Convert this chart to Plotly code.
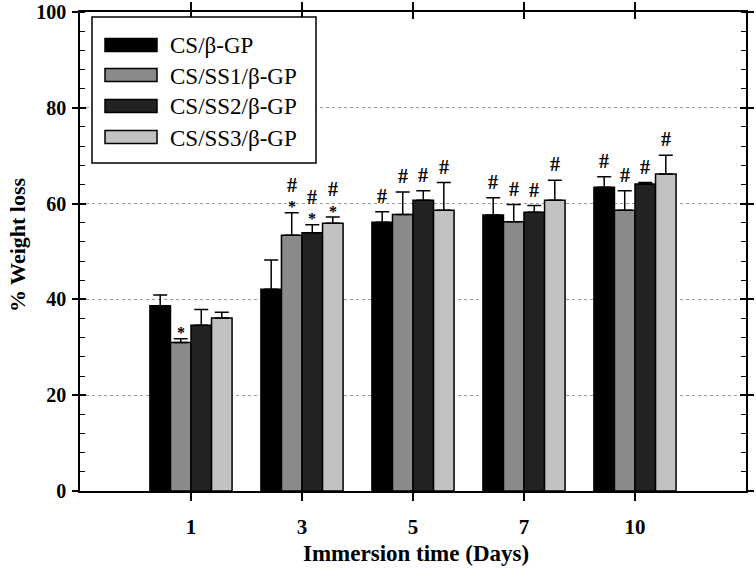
import plotly.graph_objects as go

days = ["1", "3", "5", "7", "10"]
series_names = ["CS/β-GP", "CS/SS1/β-GP", "CS/SS2/β-GP", "CS/SS3/β-GP"]
cs_bgp = [38.7, 42.1, 56.1, 57.6, 63.4]
cs_ss1 = [31.0, 53.4, 57.7, 56.2, 58.6]
cs_ss2 = [34.6, 53.9, 60.7, 58.2, 64.1]
cs_ss3 = [36.1, 55.9, 58.6, 60.7, 66.2]
err_bgp = [2.2, 6.1, 2.2, 3.6, 2.2]
err_ss1 = [0.8, 4.7, 4.7, 3.6, 4.1]
err_ss2 = [3.3, 1.7, 2.0, 1.4, 0.3]
err_ss3 = [1.2, 1.3, 5.8, 4.2, 3.9]
hash_bgp = [False, False, True, True, True]
hash_ss1 = [False, True, True, True, True]
hash_ss2 = [False, True, True, True, True]
hash_ss3 = [False, True, True, True, True]
star_bgp = [False, False, False, False, False]
star_ss1 = [True, True, False, False, False]
star_ss2 = [False, True, False, False, False]
star_ss3 = [False, True, False, False, False]
y_ticks = [0, 20, 40, 60, 80, 100]

values = [cs_bgp, cs_ss1, cs_ss2, cs_ss3]
errors = [err_bgp, err_ss1, err_ss2, err_ss3]
hashes = [hash_bgp, hash_ss1, hash_ss2, hash_ss3]
stars = [star_bgp, star_ss1, star_ss2, star_ss3]
colors = ["#000000", "#8a8a8a", "#222222", "#c2c2c2"]

SERIF = "Liberation Serif, Times New Roman, serif"
bargap = 0.26
bw = (1 - bargap) / 4
xpos = list(range(len(days)))

W, H = 756, 572
L, R, T, B = 80, 10, 12, 81
pw, ph = W - L - R, H - T - B


def px(xv):
    return (xv - L) / pw


def py(yv):
    return 1 - (yv - T) / ph


fig = go.Figure()
for k, name in enumerate(series_names):
    fig.add_trace(go.Bar(
        x=xpos, y=values[k], name=name, showlegend=False,
        marker=dict(color=colors[k], line=dict(color="#000000", width=1.5)),
        error_y=dict(type="data", array=errors[k], arrayminus=[0] * len(days),
                     symmetric=False, color="#000000", thickness=1.5, width=7),
    ))

# dummy trace for the overlay axes (crossing ticks)
fig.add_trace(go.Scatter(x=[None], y=[None], xaxis="x2", yaxis="y2",
                         showlegend=False, hoverinfo="skip"))

annotations = []
for k in range(4):
    off = (k - 1.5) * bw
    for i in range(len(days)):
        top = values[k][i] + errors[k][i]
        xp = i + off
        if stars[k][i]:
            annotations.append(dict(x=xp, y=top, xref="x", yref="y", text="<b>*</b>",
                                    showarrow=False, yanchor="middle", yshift=6,
                                    font=dict(family=SERIF, size=16, color="#000")))
            if hashes[k][i]:
                annotations.append(dict(x=xp, y=top, xref="x", yref="y", text="<b>#</b>",
                                        showarrow=False, yanchor="middle", yshift=28,
                                        font=dict(family=SERIF, size=20, color="#000")))
        elif hashes[k][i]:
            annotations.append(dict(x=xp, y=top, xref="x", yref="y", text="<b>#</b>",
                                    showarrow=False, yanchor="middle", yshift=16,
                                    font=dict(family=SERIF, size=20, color="#000")))

# custom legend with wide swatches
shapes = []
lx0, lx1, ly0, ly1 = 92, 316, 17, 163
shapes.append(dict(type="rect", xref="paper", yref="paper",
                   x0=px(lx0), x1=px(lx1), y0=py(ly1), y1=py(ly0),
                   line=dict(color="#000", width=1.5), fillcolor="white", layer="above"))
row_y = [45, 75, 106, 137]
for k, name in enumerate(series_names):
    cy = row_y[k]
    shapes.append(dict(type="rect", xref="paper", yref="paper",
                       x0=px(105), x1=px(157), y0=py(cy + 6.5), y1=py(cy - 6.5),
                       line=dict(color="#000", width=1.5), fillcolor=colors[k], layer="above"))
    annotations.append(dict(x=px(168), y=py(cy + 1), xref="paper", yref="paper", text=name,
                            showarrow=False, xanchor="left", yanchor="middle",
                            font=dict(family=SERIF, size=23, color="#000")))

# axis titles
annotations.append(dict(x=px(416), y=py(553), xref="paper", yref="paper",
                        text="<b>Immersion time (Days)</b>", showarrow=False,
                        xanchor="center", yanchor="middle",
                        font=dict(family=SERIF, size=23, color="#000")))
annotations.append(dict(x=px(17), y=py(245), xref="paper", yref="paper",
                        text="<b>% Weight loss</b>", showarrow=False, textangle=-90,
                        xanchor="center", yanchor="middle",
                        font=dict(family=SERIF, size=22, color="#000")))

fig.update_layout(
    width=W, height=H,
    margin=dict(l=L, r=R, t=T, b=B),
    paper_bgcolor="white", plot_bgcolor="white",
    barmode="group", bargap=bargap, bargroupgap=0,
    showlegend=False,
    font=dict(family=SERIF, color="#000"),
    shapes=shapes, annotations=annotations,
    xaxis=dict(range=[-1, 5], tickmode="array", tickvals=xpos,
               ticktext=["<b>%s</b>" % d for d in days], automargin=False,
               ticklabeloverflow="allow", ticklabelstandoff=8,
               showline=True, linecolor="#000", linewidth=1.5, mirror="ticks",
               ticks="outside", ticklen=8, tickwidth=1.5, tickcolor="#000",
               showgrid=False, zeroline=False,
               tickfont=dict(family=SERIF, size=21, color="#000")),
    yaxis=dict(range=[0, 100], tickmode="array", tickvals=y_ticks,
               ticktext=["<b>%d</b>" % v for v in y_ticks], automargin=False,
               ticklabeloverflow="allow", ticklabelstandoff=2,
               showline=True, linecolor="#000", linewidth=1.5, mirror="ticks",
               ticks="outside", ticklen=6, tickwidth=1.5, tickcolor="#000",
               minor=dict(dtick=4, ticks="inside", ticklen=5, tickwidth=1.2,
                          tickcolor="#000", showgrid=False),
               showgrid=True, gridcolor="#9a9a9a", griddash="dot", gridwidth=1.2,
               zeroline=False,
               tickfont=dict(family=SERIF, size=20, color="#000")),
    xaxis2=dict(overlaying="x", matches="x", side="top", range=[-1, 5],
                tickmode="array", tickvals=xpos, showticklabels=False,
                ticks="inside", ticklen=7, tickwidth=1.5, tickcolor="#000",
                showline=False, showgrid=False, zeroline=False),
    yaxis2=dict(overlaying="y", matches="y", side="left", range=[0, 100],
                tickmode="array", tickvals=y_ticks, showticklabels=False,
                ticks="inside", ticklen=6, tickwidth=1.5, tickcolor="#000",
                mirror="ticks", showline=False, showgrid=False, zeroline=False),
)

fig.write_html("out.html", config={"displayModeBar": False},
               post_script="document.body.style.margin='0';")
